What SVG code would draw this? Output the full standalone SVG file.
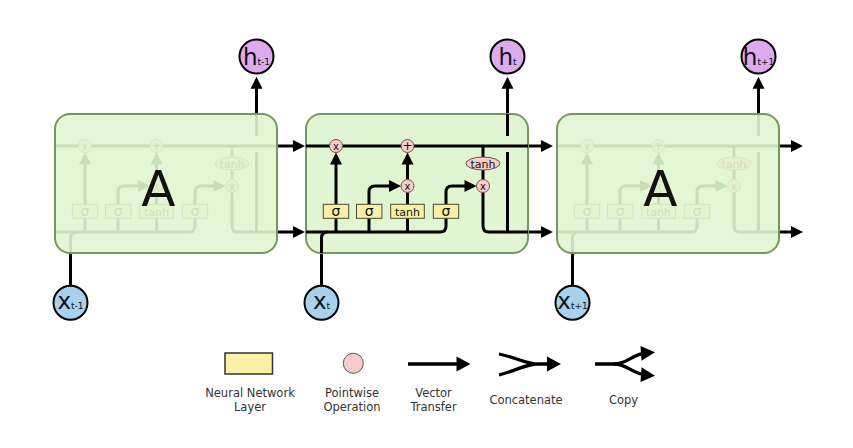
<svg xmlns="http://www.w3.org/2000/svg" xmlns:xlink="http://www.w3.org/1999/xlink" width="853" height="448" viewBox="0 0 853 448">
<style>
  .ln{fill:none;stroke:#000;stroke-width:3}
  .arr{fill:none;stroke:#000;stroke-width:3;marker-end:url(#ah)}
  .box{fill:#e0f5d2;stroke:#76985e;stroke-width:2}
  .fade{fill:#e0f5d2;fill-opacity:0.9;stroke:#76985e;stroke-width:2}
  .nn{fill:#f9f0a5;stroke:#4a4a30;stroke-width:1}
  .pw{fill:#f7cccc;stroke:#7a4a4a;stroke-width:1}
  .t{font-family:"DejaVu Sans","Liberation Sans",sans-serif;fill:#111}
  .lg{font-family:"DejaVu Sans","Liberation Sans",sans-serif;font-size:11.5px;fill:#333;text-anchor:middle}
  .hc{fill:#ddaaee;stroke:#000;stroke-width:2}
  .xc{fill:#a8d1ee;stroke:#000;stroke-width:2}
</style>
<defs>
  <marker id="ah" markerUnits="userSpaceOnUse" viewBox="0 0 12 12" markerWidth="12" markerHeight="12" refX="4" refY="6" orient="auto" overflow="visible">
    <path d="M0,0 L12,6 L0,12 z" fill="#000"/>
  </marker>
  <marker id="ahL" markerUnits="userSpaceOnUse" viewBox="0 0 14 15" markerWidth="14" markerHeight="15" refX="5" refY="7.5" orient="auto" overflow="visible">
    <path d="M0,0 L14,7.5 L0,15 z" fill="#000"/>
  </marker>
  <g id="internals">
    <path class="ln" d="M0,32 H222"/>
    <path class="ln" d="M0,118 H134 Q140,118 140,112 V104.3"/>
    <path class="ln" d="M15.5,139 V124 Q15.5,118 21.5,118"/>
    <path class="ln" d="M30,118 V104.3 M63,118 V104.3 M101.5,118 V104.3"/>
    <path class="arr" d="M30,90.3 V46.5"/>
    <path class="arr" d="M63,90.3 V78 Q63,72 69,72 H87"/>
    <path class="ln" d="M101.5,90.3 V78.5"/>
    <path class="arr" d="M101.5,65.5 V46.5"/>
    <path class="arr" d="M140,90.3 V78 Q140,72 146,72 H162.5"/>
    <path class="ln" d="M177,32 V43.5 M177,55.5 V65.5"/>
    <path class="ln" d="M177,78.5 V112 Q177,118 183,118 H222"/>
    <path class="ln" d="M201.5,118 V38 M201.5,22 V0"/>
    <rect class="nn" x="17.3" y="90.3" width="25.4" height="14"/>
    <rect class="nn" x="50.5" y="90.3" width="25.4" height="14"/>
    <rect class="nn" x="84.7" y="90.3" width="33.6" height="14"/>
    <rect class="nn" x="127.3" y="90.3" width="25.4" height="14"/>
    <text class="t" x="30" y="102.3" font-size="14" text-anchor="middle">σ</text>
    <text class="t" x="63.2" y="102.3" font-size="14" text-anchor="middle">σ</text>
    <text class="t" x="101.5" y="101.5" font-size="11" text-anchor="middle">tanh</text>
    <text class="t" x="140" y="102.3" font-size="14" text-anchor="middle">σ</text>
    <circle class="pw" cx="30" cy="32" r="6.5"/>
    <circle class="pw" cx="101.5" cy="32" r="6.5"/>
    <circle class="pw" cx="101.5" cy="72" r="6.5"/>
    <circle class="pw" cx="177" cy="72" r="6.5"/>
    <ellipse class="pw" cx="177" cy="49.5" rx="17" ry="6.5"/>
    <text class="t" x="30" y="35.5" font-size="10" text-anchor="middle">x</text>
    <text class="t" x="101.5" y="36" font-size="12" text-anchor="middle">+</text>
    <text class="t" x="101.5" y="75.5" font-size="10" text-anchor="middle">x</text>
    <text class="t" x="177" y="75.5" font-size="10" text-anchor="middle">x</text>
    <text class="t" x="177" y="53.5" font-size="11" text-anchor="middle">tanh</text>
  </g>
</defs>

<g id="connectors">
  <path class="arr" d="M277,146 H297"/>
  <path class="arr" d="M277,232 H297"/>
  <path class="arr" d="M528,146 H545"/>
  <path class="arr" d="M528,232 H545"/>
  <path class="arr" d="M779,146 H795"/>
  <path class="arr" d="M779,232 H795"/>
  <path class="arr" d="M256.5,114 V84.7"/>
  <path class="arr" d="M507.5,114 V84.7"/>
  <path class="arr" d="M758.5,114 V84.7"/>
  <path class="ln" d="M70.5,285 V253"/>
  <path class="ln" d="M321.5,285 V253"/>
  <path class="ln" d="M572.5,285 V253"/>
</g>

<g id="cell-prev">
  <use xlink:href="#internals" href="#internals" transform="translate(55,114)"/>
  <rect class="fade" x="55" y="114" width="222" height="139" rx="15"/>
  <text class="t" x="158.3" y="206" font-size="50" text-anchor="middle">A</text>
</g>
<g id="cell-current">
  <rect class="box" x="306" y="114" width="222" height="139" rx="15"/>
  <use xlink:href="#internals" href="#internals" transform="translate(306,114)"/>
</g>
<g id="cell-next">
  <use xlink:href="#internals" href="#internals" transform="translate(557,114)"/>
  <rect class="fade" x="557" y="114" width="222" height="139" rx="15"/>
  <text class="t" x="660.3" y="206" font-size="50" text-anchor="middle">A</text>
</g>

<g id="h-prev">
  <circle class="hc" cx="256.5" cy="56.5" r="17"/>
  <text class="t" x="256.5" y="64.5" font-size="23" text-anchor="middle">h<tspan font-size="9">t-1</tspan></text>
</g>
<g id="h-current">
  <circle class="hc" cx="507.5" cy="56.5" r="17"/>
  <text class="t" x="507.5" y="64.5" font-size="23" text-anchor="middle">h<tspan font-size="9">t</tspan></text>
</g>
<g id="h-next">
  <circle class="hc" cx="758.5" cy="56.5" r="17"/>
  <text class="t" x="758.5" y="64.5" font-size="23" text-anchor="middle">h<tspan font-size="9">t+1</tspan></text>
</g>
<g id="x-prev">
  <circle class="xc" cx="70.5" cy="302.7" r="17"/>
  <text class="t" x="70.5" y="308.5" font-size="23" text-anchor="middle">x<tspan font-size="9">t-1</tspan></text>
</g>
<g id="x-current">
  <circle class="xc" cx="321.5" cy="302.7" r="17"/>
  <text class="t" x="321.5" y="308.5" font-size="23" text-anchor="middle">x<tspan font-size="9">t</tspan></text>
</g>
<g id="x-next">
  <circle class="xc" cx="572.5" cy="302.7" r="17"/>
  <text class="t" x="572.5" y="308.5" font-size="23" text-anchor="middle">x<tspan font-size="9">t+1</tspan></text>
</g>

<g id="legend">
  <rect x="225" y="353" width="47.5" height="21" fill="#f9f0a5" stroke="#333" stroke-width="1.5"/>
  <text class="lg" x="250" y="397">Neural Network</text>
  <text class="lg" x="250" y="411">Layer</text>
  <circle cx="353.3" cy="363.3" r="10" fill="#f7cccc" stroke="#555" stroke-width="1"/>
  <text class="lg" x="352" y="397">Pointwise</text>
  <text class="lg" x="352" y="411">Operation</text>
  <path d="M408,364 H461.5" fill="none" stroke="#000" stroke-width="3.3" marker-end="url(#ahL)"/>
  <text class="lg" x="433.5" y="397">Vector</text>
  <text class="lg" x="433.5" y="411">Transfer</text>
  <path d="M499,354 C518,358 526,364 538,364 M499,375 C518,370 526,364 538,364 M536,364 H552" fill="none" stroke="#000" stroke-width="3.3" marker-end="url(#ahL)"/>
  <text class="lg" x="526" y="404">Concatenate</text>
  <path d="M595,364 H614 C628,364 632,354 646,353" fill="none" stroke="#000" stroke-width="3.3" marker-end="url(#ahL)"/>
  <path d="M614,364 C628,364 632,374 646,375" fill="none" stroke="#000" stroke-width="3.3" marker-end="url(#ahL)"/>
  <text class="lg" x="623.5" y="404">Copy</text>
</g>
</svg>
